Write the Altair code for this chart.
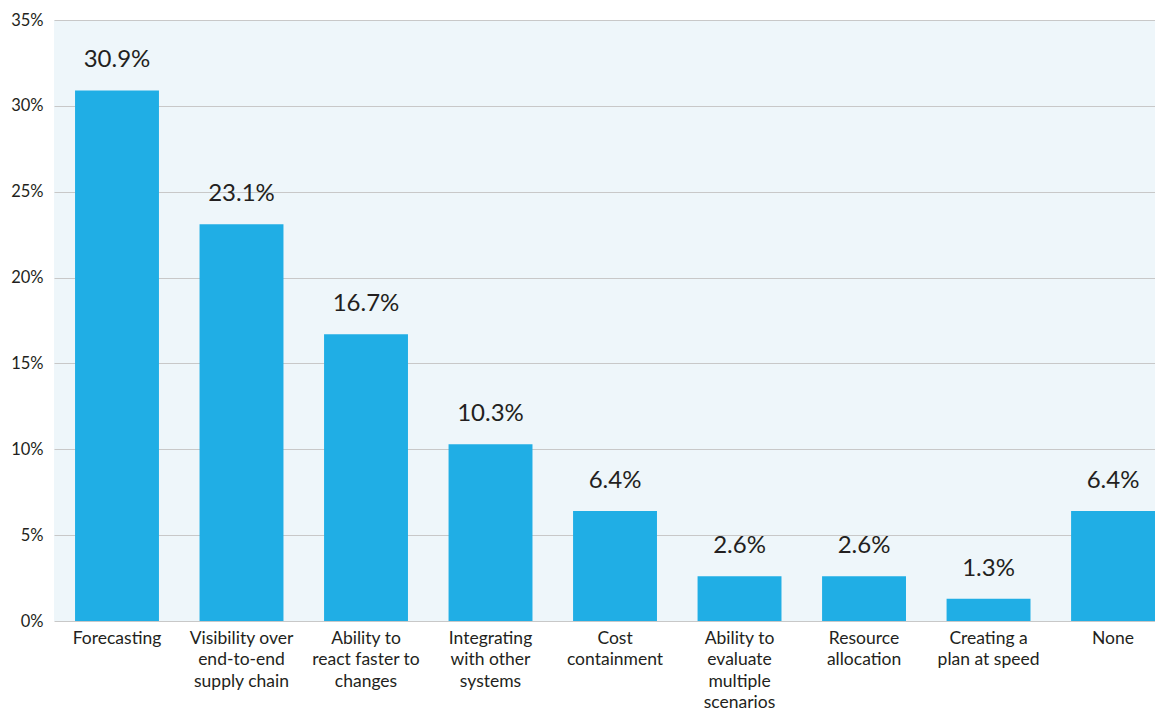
import altair as alt
import pandas as pd

categories = [
    "Forecasting",
    "Visibility over\nend-to-end\nsupply chain",
    "Ability to\nreact faster to\nchanges",
    "Integrating\nwith other\nsystems",
    "Cost\ncontainment",
    "Ability to\nevaluate\nmultiple\nscenarios",
    "Resource\nallocation",
    "Creating a\nplan at speed",
    "None",
]
values = [30.9, 23.1, 16.7, 10.3, 6.4, 2.6, 2.6, 1.3, 6.4]
y_ticks = [0, 5, 10, 15, 20, 25, 30, 35]

df = pd.DataFrame({
    "cat": categories,
    "val": values,
    "lab": [f"{v:.1f}%" for v in values],
})

TXT = "#231f20"
FONT = "Lato"

x_enc = alt.X(
    "cat:N",
    sort=None,
    title=None,
    scale=alt.Scale(paddingInner=0.326, paddingOuter=0.0845, align=1),
    axis=alt.Axis(
        labelExpr="split(datum.label, '\\n')",
        labelAngle=0,
        labelFont=FONT,
        labelFontSize=17.5,
        labelColor=TXT,
        labelLineHeight=21.5,
        labelPadding=8,
        labelLimit=300,
        domain=False,
        ticks=False,
        grid=False,
    ),
)

y_enc = alt.Y(
    "val:Q",
    title=None,
    scale=alt.Scale(domain=[0, 35], nice=False, zero=True),
    axis=alt.Axis(
        values=y_ticks,
        labelExpr="datum.value + '%'",
        labelFont=FONT,
        labelFontSize=16.5,
        labelColor=TXT,
        labelPadding=11,
        domain=False,
        ticks=False,
        grid=True,
        gridColor="#c8c8c8",
        gridWidth=1,
    ),
)

bars = alt.Chart(df).mark_bar(color="#20aee5").encode(x=x_enc, y=y_enc)

labels = alt.Chart(df).mark_text(
    font=FONT, fontSize=24, color=TXT, baseline="middle", dy=-30
).encode(x=alt.X("cat:N", sort=None), y="val:Q", text="lab:N")

chart = (
    alt.layer(bars, labels)
    .properties(
        width=1101,
        height=601,
        padding={"left": 46, "top": 12, "right": 0, "bottom": 92},
        autosize=alt.AutoSizeParams(type="none"),
    )
    .configure_view(fill="#eef6fa", stroke=None)
)

chart.save("out.html", embed_options={"renderer": "svg", "actions": False})
